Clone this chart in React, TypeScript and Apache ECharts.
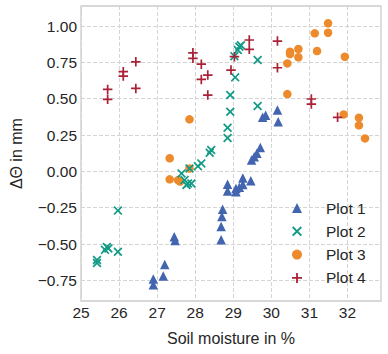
import React, { useEffect, useRef } from "react";
import * as echarts from "echarts";

const seriesNames = ["Plot 1", "Plot 2", "Plot 3", "Plot 4"];
const seriesColors = ["#4365b0", "#119a85", "#ec8a2c", "#aa2237"];

const xTicks = [25, 26, 27, 28, 29, 30, 31, 32];
const yTicks = [-0.75, -0.5, -0.25, 0, 0.25, 0.5, 0.75, 1.0];

const plot1: number[][] = [
  [26.9, -0.74], [26.9, -0.78], [27.16, -0.72], [27.2, -0.64], [27.45, -0.45], [27.47, -0.475],
  [28.72, -0.26], [28.7, -0.31], [28.68, -0.38], [28.68, -0.47], [28.85, -0.088], [28.85, -0.135],
  [29.07, -0.118], [29.07, -0.14], [29.16, -0.11], [29.25, -0.045], [29.25, -0.09], [29.46, -0.065],
  [29.71, 0.165], [29.62, 0.124], [29.55, 0.1], [29.48, 0.078], [29.77, 0.372], [29.85, 0.387],
  [30.16, 0.422], [30.18, 0.341],
];

const plot2: number[][] = [
  [25.42, -0.61], [25.42, -0.63], [25.68, -0.52], [25.63, -0.54], [25.72, -0.53], [25.97, -0.553],
  [25.97, -0.27], [27.64, -0.014], [27.72, -0.06], [27.81, -0.083], [27.9, -0.083], [27.77, -0.094],
  [27.85, 0.02], [28.07, 0.036], [28.16, 0.055], [28.38, 0.128], [28.42, 0.147], [28.85, 0.23],
  [28.85, 0.3], [28.92, 0.41], [28.92, 0.525], [29.05, 0.647], [29.03, 0.793], [29.12, 0.835],
  [29.16, 0.858], [29.2, 0.868], [29.64, 0.766], [29.64, 0.45],
];

const plot3: number[][] = [
  [27.85, 0.358], [27.33, 0.09], [27.33, -0.055], [27.55, -0.06], [27.6, -0.07], [27.85, 0.02],
  [30.42, 0.532], [30.42, 0.743], [30.49, 0.823], [30.49, 0.807], [30.71, 0.842], [30.71, 0.785],
  [31.14, 0.95], [31.2, 0.828], [31.49, 1.019], [31.49, 0.954], [31.93, 0.789], [31.9, 0.392],
  [32.3, 0.369], [32.3, 0.317], [32.46, 0.227],
];

const plot4: number[][] = [
  [25.7, 0.564], [25.7, 0.496], [26.11, 0.686], [26.11, 0.656], [26.44, 0.754], [26.44, 0.571],
  [27.94, 0.816], [27.94, 0.778], [28.16, 0.738], [28.16, 0.633], [28.33, 0.663], [28.33, 0.525],
  [29.03, 0.789], [28.94, 0.697], [29.42, 0.904], [29.42, 0.84], [30.16, 0.897], [30.16, 0.713],
  [31.05, 0.498], [31.05, 0.463], [31.74, 0.372],
];

const PLUS = "path://M8.2,0H11.8V8.2H20V11.8H11.8V20H8.2V11.8H0V8.2H8.2Z";
const CROSS =
  "path://M0,2.7L2.7,0L10,7.3L17.3,0L20,2.7L12.7,10L20,17.3L17.3,20L10,12.7L2.7,20L0,17.3L7.3,10Z";

const FONT = "'Liberation Sans', Arial, sans-serif";

export default function App() {
  const ref = useRef<HTMLDivElement>(null);
  useEffect(() => {
    document.body.style.margin = "0";
    if (!ref.current) return;
    const chart = echarts.init(ref.current, null, { renderer: "svg" });
    const symbols = ["triangle", CROSS, "circle", PLUS];
    const sizes = [9.5, 9, 8.5, 9.5];
    const datas = [plot1, plot2, plot3, plot4];
    const order = [0, 2, 1, 3];
    const series = order.map((i) => ({
      name: seriesNames[i],
      type: "scatter",
      data: datas[i],
      symbol: symbols[i],
      symbolSize: sizes[i],
      itemStyle: { color: seriesColors[i], opacity: 1 },
      emphasis: { disabled: true },
    }));
    chart.setOption({
      animation: false,
      textStyle: { fontFamily: FONT },
      grid: {
        left: 79,
        right: 7,
        top: 6,
        bottom: 53,
        show: true,
        borderColor: "#cccccc",
        borderWidth: 1.3,
        containLabel: false,
      },
      legend: {
        orient: "vertical",
        left: 287,
        top: 195,
        itemWidth: 10,
        itemHeight: 10,
        itemGap: 7.3,
        data: seriesNames.map((n, i) => ({ name: n, icon: symbols[i] })),
        textStyle: { fontSize: 15.5, color: "#262626", fontFamily: FONT, padding: [0, 0, 0, 19] },
      },
      xAxis: {
        type: "value",
        min: 25,
        max: 32.88,
        name: "Soil moisture in %",
        nameLocation: "middle",
        nameGap: 29,
        nameTextStyle: { fontSize: 16, color: "#262626", fontFamily: FONT },
        axisLine: { show: false },
        axisTick: { show: false, customValues: xTicks },
        axisLabel: {
          customValues: xTicks,
          fontSize: 15.5,
          color: "#262626",
          margin: 3,
          fontFamily: FONT,
          formatter: (v: number) => String(v),
        },
        splitLine: { show: true, lineStyle: { color: "#d4d4d4", type: [4, 2], width: 1 } },
      },
      yAxis: {
        type: "value",
        min: -0.892,
        max: 1.138,
        name: "ΔΘ in mm",
        nameLocation: "middle",
        nameGap: 57,
        nameTextStyle: { fontSize: 16, color: "#262626", fontFamily: FONT },
        axisLine: { show: false },
        axisTick: { show: false, customValues: yTicks },
        axisLabel: {
          customValues: yTicks,
          fontSize: 15.5,
          color: "#262626",
          margin: 4,
          fontFamily: FONT,
          formatter: (v: number) => v.toFixed(2).replace("-", "\u2212"),
        },
        splitLine: { show: true, lineStyle: { color: "#d4d4d4", type: [4, 2], width: 1 } },
      },
      series,
    });
    return () => chart.dispose();
  }, []);
  return <div ref={ref} style={{ width: 388, height: 354 }} />;
}
